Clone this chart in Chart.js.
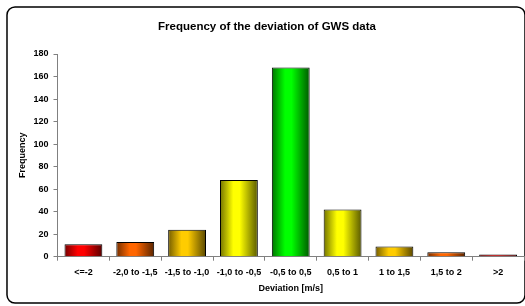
<!DOCTYPE html>
<html>
<head>
<meta charset="utf-8">
<script src="https://cdn.jsdelivr.net/npm/chart.js@4/dist/chart.umd.min.js"></script>
<style>
  html, body { margin: 0; padding: 0; background: #fff; overflow: hidden; }
  #wrap { width: 525px; height: 306px; position: relative; }
  canvas { display: block; }
</style>
</head>
<body>
<div id="wrap"><canvas id="myChart" width="525" height="306"></canvas></div>
<script>
"use strict";

// data
var categories = ["<=-2", "-2,0 to -1,5", "-1,5 to -1,0", "-1,0 to -0,5", "-0,5 to 0,5", "0,5 to 1", "1 to 1,5", "1,5 to 2", ">2"];
var frequency = [11, 13, 24, 68, 168, 42, 9, 4, 2];
var barColours = ["#FF0000", "#FF6600", "#FFCC00", "#FFFF00", "#00FF00", "#FFFF00", "#FFCC00", "#FF6600", "#C00000"];
var yTicks = [0, 20, 40, 60, 80, 100, 120, 140, 160, 180];

Chart.defaults.font.family = "'Liberation Sans', Arial, sans-serif";
Chart.defaults.font.weight = "bold";
Chart.defaults.font.size = 9;
Chart.defaults.color = "#000";

function darken(hex, f) {
    var n = parseInt(hex.slice(1), 16);
    var r = Math.round(((n >> 16) & 255) * f);
    var g = Math.round(((n >> 8) & 255) * f);
    var b = Math.round((n & 255) * f);
    return "rgb(" + r + "," + g + "," + b + ")";
}

// Excel style shading: dark edges, bright a bit left of centre
function barFill(context) {
    var chart = context.chart;
    var xs = chart.scales.x;
    var i = context.dataIndex;
    var col = barColours[i];
    if (!xs || !chart.chartArea || i === undefined) return col;
    var cx = xs.getPixelForValue(i);
    var w = (xs.width / categories.length) * 0.73;
    var g = chart.ctx.createLinearGradient(cx - w / 2, 0, cx + w / 2, 0);
    g.addColorStop(0, darken(col, 0.45));
    g.addColorStop(0.35, col);
    g.addColorStop(0.52, col);
    g.addColorStop(1, darken(col, 0.35));
    return g;
}

var framePlugin = {
    id: "frame",
    beforeDraw: function (chart) {
        var ctx = chart.ctx;
        ctx.save();
        ctx.fillStyle = "#fff";
        ctx.fillRect(0, 0, chart.width, chart.height);
        ctx.strokeStyle = "#000";
        ctx.lineWidth = 1.5;
        ctx.beginPath();
        ctx.roundRect(7, 7, 518, 296, 8);
        ctx.stroke();
        ctx.restore();
    }
};

var ctx = document.getElementById("myChart").getContext("2d");
var chart = new Chart(ctx, {
    type: "bar",
    data: {
        labels: categories,
        datasets: [{
            label: "Frequency",
            data: frequency,
            backgroundColor: barFill,
            borderColor: "#000",
            borderWidth: 1,
            barPercentage: 0.73,
            categoryPercentage: 1
        }]
    },
    options: {
        responsive: false,
        animation: false,
        layout: { padding: { left: 10, right: 1, top: 0, bottom: 0 } },
        plugins: {
            legend: { display: false },
            tooltip: { enabled: false },
            title: {
                display: true,
                text: "Frequency of the deviation of GWS data",
                font: { size: 11.5, weight: "bold" },
                color: "#000",
                padding: { top: 20.4, bottom: 19.8 }
            }
        },
        scales: {
            x: {
                grid: { display: true, drawOnChartArea: false, tickLength: 4, color: "#808080", offset: true },
                border: { color: "#808080", width: 1 },
                ticks: { maxRotation: 0, autoSkip: false, padding: 6, font: { size: 9, weight: "bold" } },
                title: { display: true, text: "Deviation [m/s]", font: { size: 9, weight: "bold" }, padding: { top: 0, bottom: 11.6 } },
                afterFit: function (scale) { scale.height = 306 - 256.7; }
            },
            y: {
                min: yTicks[0],
                max: yTicks[yTicks.length - 1],
                afterBuildTicks: function (scale) {
                    scale.ticks = yTicks.map(function (v) { return { value: v }; });
                },
                grid: { display: true, drawOnChartArea: false, tickLength: 4, color: "#808080" },
                border: { color: "#808080", width: 1 },
                ticks: { padding: 5, font: { size: 9, weight: "bold" } },
                title: { display: true, text: "Frequency", font: { size: 9, weight: "bold" }, padding: { top: 7.6, bottom: 0 } },
                afterFit: function (scale) { scale.width = 47.5; }
            }
        }
    },
    plugins: [framePlugin]
});
</script>
</body>
</html>
